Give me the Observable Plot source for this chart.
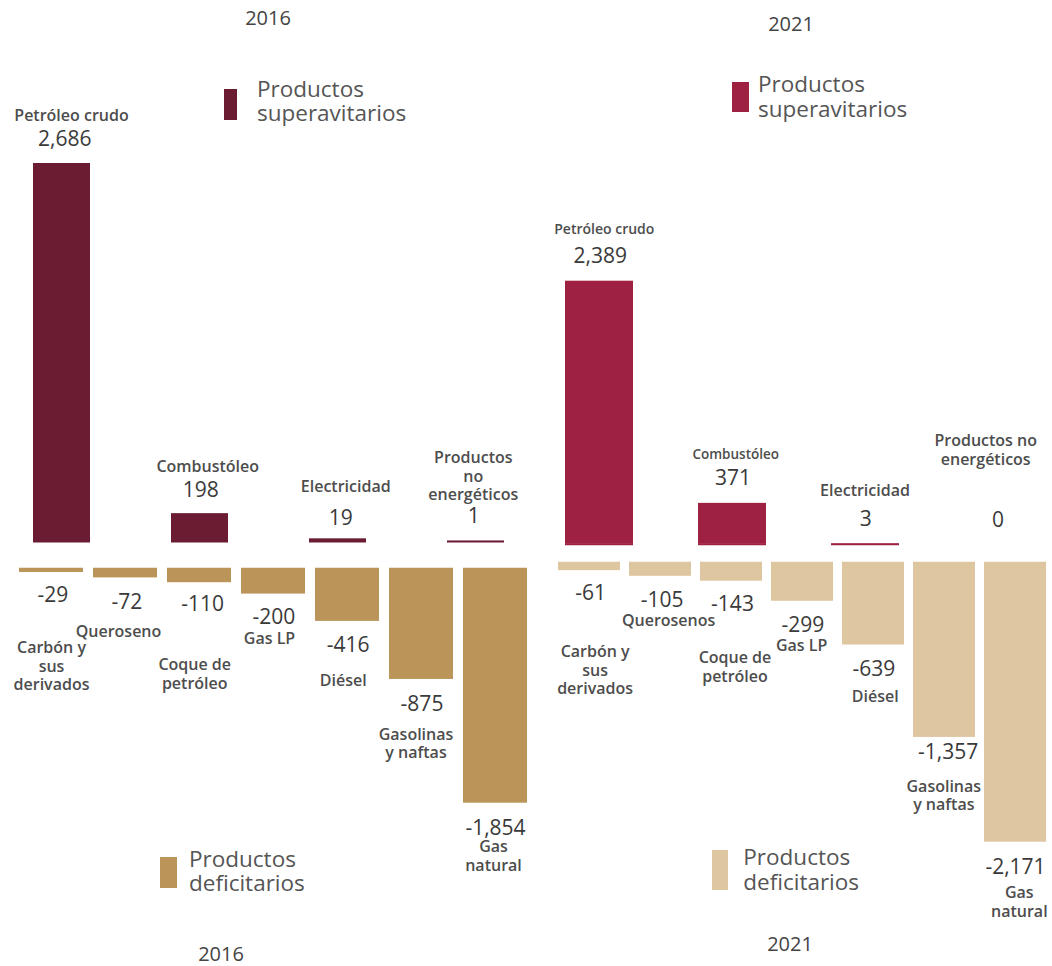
<!DOCTYPE html>
<html><head><meta charset="utf-8">
<script src="https://cdn.jsdelivr.net/npm/d3@7"></script>
<script src="https://cdn.jsdelivr.net/npm/@observablehq/plot@0.6"></script>
<style>
html,body{margin:0;padding:0;background:#fff;}
#chart{position:relative;width:1052px;height:966px;font-family:"Open Sans",sans-serif;overflow:hidden;background:#fff;}
#chart svg{position:absolute;left:0;top:0;}
.t{position:absolute;white-space:pre;}
.sw{position:absolute;}
</style></head><body><div id="chart"></div>
<script>
// ---------- DATA ----------
const years = ["2016", "2021"];
const legendSurplus = "Productos\nsuperavitarios";
const legendDeficit = "Productos\ndeficitarios";

const surplusNames2016 = ["Petróleo crudo", "Combustóleo", "Electricidad", "Productos\nno\nenergéticos"];
const surplusValues2016 = [2686, 198, 19, 1];
const deficitNames2016 = ["Carbón y\nsus\nderivados", "Queroseno", "Coque de\npetróleo", "Gas LP", "Diésel", "Gasolinas\ny naftas", "Gas\nnatural"];
const deficitValues2016 = [-29, -72, -110, -200, -416, -875, -1854];

const surplusNames2021 = ["Petróleo crudo", "Combustóleo", "Electricidad", "Productos no\nenergéticos"];
const surplusValues2021 = [2389, 371, 3, 0];
const deficitNames2021 = ["Carbón y\nsus\nderivados", "Querosenos", "Coque de\npetróleo", "Gas LP", "Diésel", "Gasolinas\ny naftas", "Gas\nnatural"];
const deficitValues2021 = [-61, -105, -143, -299, -639, -1357, -2171];

// ---------- LAYOUT / STYLE ----------
const colors = {s2016: "#6b1c33", d2016: "#bb9459", s2021: "#9e2141", d2021: "#dec7a0"};
const layout = {
  s2016: {x: [33, 504], pad: 0.587, y: [541, 163], fill: colors.s2016,
    nameDx: [9.5, 7.7, 7.7, -2.7], nameDy: [-43, -41.4, -46.7, -41], nameSize: [16, 16, 16, 16],
    valDx: [2.7, 0.7, 2.7, -2.2], valDy: [-18, -16.3, -13.9, -17.9]},
  d2016: {x: [18, 528], pad: 0.13, y: [568.3, 802.7], fill: colors.d2016,
    nameDx: [0, -7, -4.8, -4, -4.2, -5.5, -2], nameDy: [118, 59.3, 106.1, 49.7, 64.8, 78.8, 67.3], nameSize: [16, 16, 16, 16, 16, 16, 16],
    valDx: [1.4, 1.3, 3.2, 0.3, 0.6, 0.5, 0], valDy: [29.7, 30.9, 27.8, 29.7, 30.8, 31.1, 31.3]},
  s2021: {x: [564.3, 1032], pad: 0.491, y: [543.7, 280.7], fill: colors.s2021,
    nameDx: [4.8, 3.2, -0.5, -12.8], nameDy: [-47.7, -44.6, -47.4, -79.7], nameSize: [14, 13.5, 16, 16],
    valDx: [0.8, 0.5, 0.2, -0.4], valDy: [-18.7, -17.9, -17.4, -17.7]},
  d2021: {x: [556.7, 1047.7], pad: 0.133, y: [562.3, 841.7], fill: colors.d2021,
    nameDx: [5.6, 8.1, 3.5, -0.9, 1.8, -0.7, 3.8], nameDy: [123.8, 49.9, 101, 49.9, 56.5, 73, 75], nameSize: [16, 16, 16, 16, 16, 16, 16],
    valDx: [1.1, 1.6, 1, 0.3, 0.3, 3.6, 0], valDy: [29.8, 30.9, 30, 30.9, 30.5, 21.3, 31.6]}
};

const fmt = d3.formatLocale({decimal: ".", thousands: ",", grouping: [3], currency: ["$", ""], minus: "-"}).format(",");

function section(names, values, L) {
  const data = names.map((name, i) => ({name, value: values[i]}));
  const ext = d3.sum(values) >= 0 ? d3.max(values) : d3.min(values);
  const marks = [
    Plot.barY(data, {x: "name", y: "value", fill: L.fill}),
    Plot.tickY(data.filter(d => d.value !== 0), {x: "name", y: 0, stroke: L.fill, strokeWidth: 2})
  ];
  data.forEach((d, i) => {
    marks.push(Plot.text([d], {x: "name", y: "value", text: v => fmt(v.value),
      dx: L.valDx[i], dy: L.valDy[i], lineAnchor: "bottom", fontSize: 21, fill: "#3a3a3a"}));
    marks.push(Plot.text([d], {x: "name", y: "value", text: "name",
      dx: L.nameDx[i], dy: L.nameDy[i], lineAnchor: "bottom", lineHeight: 1.17,
      fontSize: L.nameSize[i], fontWeight: 600, fill: "#4d4d4d"}));
  });
  return Plot.plot({
    width: 1052, height: 966, margin: 0,
    style: {background: "transparent", fontFamily: "'Open Sans', sans-serif", overflow: "visible"},
    x: {type: "band", domain: names, range: L.x, paddingInner: L.pad, paddingOuter: 0, axis: null},
    y: {domain: [0, ext], range: L.y, axis: null},
    marks
  });
}

const chart = document.getElementById("chart");
chart.append(section(surplusNames2016, surplusValues2016, layout.s2016));
chart.append(section(deficitNames2016, deficitValues2016, layout.d2016));
chart.append(section(surplusNames2021, surplusValues2021, layout.s2021));
chart.append(section(deficitNames2021, deficitValues2021, layout.d2021));

// ---------- titles & legends (HTML) ----------
function textAt(str, {cx, left, baseline, size, lh, color, weight = 400}) {
  const el = document.createElement("div");
  el.className = "t";
  el.textContent = str;
  el.style.fontSize = size + "px";
  el.style.lineHeight = lh + "px";
  el.style.color = color;
  el.style.fontWeight = weight;
  el.style.top = (baseline - lh / 2 - 0.388 * size) + "px";
  if (cx !== undefined) { el.style.left = cx + "px"; el.style.transform = "translateX(-50%)"; el.style.textAlign = "center"; }
  else el.style.left = left + "px";
  chart.append(el);
}
function swatch(x, y, w, h, color) {
  const el = document.createElement("div");
  el.className = "sw";
  Object.assign(el.style, {left: x + "px", top: y + "px", width: w + "px", height: h + "px", background: color});
  chart.append(el);
}
textAt(years[0], {cx: 268, baseline: 26, size: 20, lh: 24, color: "#444"});
textAt(years[1], {cx: 791, baseline: 32, size: 20, lh: 24, color: "#444"});
textAt(years[0], {cx: 221, baseline: 962, size: 20, lh: 24, color: "#444"});
textAt(years[1], {cx: 790, baseline: 951.7, size: 20, lh: 24, color: "#444"});

swatch(224, 88.6, 13, 31.5, colors.s2016);
textAt(legendSurplus, {left: 257, baseline: 98, size: 22.5, lh: 24, color: "#555"});
swatch(732, 82, 17, 30, colors.s2021);
textAt(legendSurplus, {left: 758, baseline: 93, size: 22.5, lh: 24.5, color: "#555"});
swatch(160, 857, 17, 31, colors.d2016);
textAt(legendDeficit, {left: 189, baseline: 868, size: 22.5, lh: 24, color: "#555"});
swatch(711.7, 850, 16, 40, colors.d2021);
textAt(legendDeficit, {left: 743.3, baseline: 865.7, size: 22.5, lh: 25, color: "#555"});
</script></body></html>
